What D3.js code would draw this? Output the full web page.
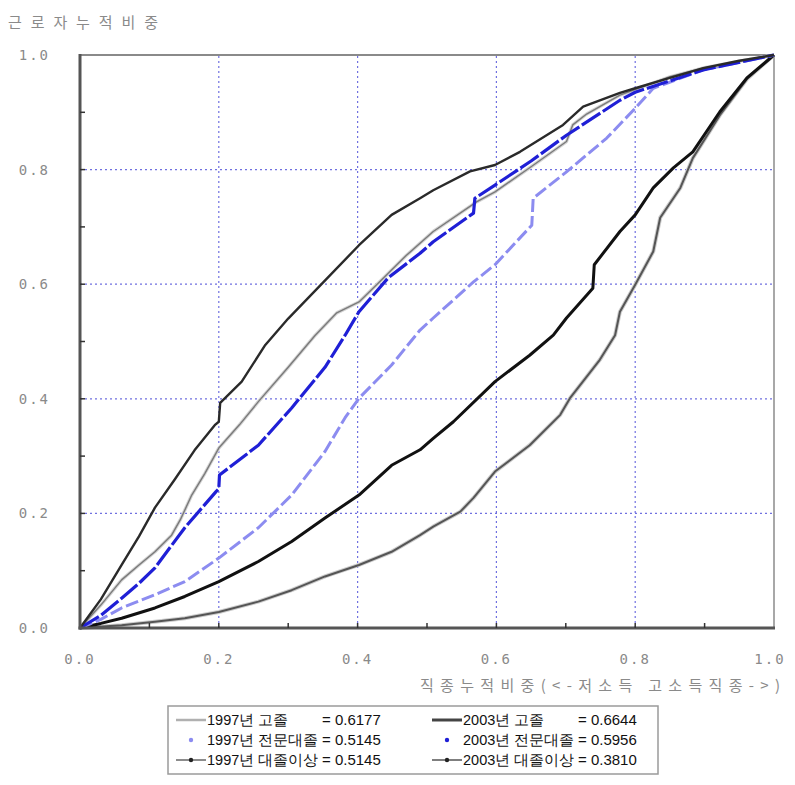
<!DOCTYPE html>
<html>
<head>
<meta charset="utf-8">
<script src="https://cdn.jsdelivr.net/npm/d3@7"></script>
<style>
  body { margin: 0; background: #fff; }
  svg { display: block; }
</style>
</head>
<body>
<svg id="chart" width="795" height="785"></svg>
<script>
// Cumulative employment share (x) vs cumulative worker share (y), by education group
const hs1997 = [[0,0],[0.03,0.04],[0.06,0.084],[0.085,0.11],[0.108,0.133],[0.132,0.162],[0.145,0.19],[0.161,0.232],[0.18,0.27],[0.2,0.314],[0.23,0.355],[0.257,0.395],[0.30,0.455],[0.339,0.511],[0.37,0.55],[0.402,0.569],[0.43,0.602],[0.47,0.65],[0.509,0.692],[0.572,0.744],[0.598,0.761],[0.65,0.805],[0.701,0.849],[0.71,0.878],[0.73,0.897],[0.778,0.93],[0.85,0.962],[0.9,0.978],[1,1]];
const tech1997 = [[0,0],[0.03,0.015],[0.06,0.035],[0.108,0.058],[0.151,0.081],[0.2,0.122],[0.257,0.175],[0.305,0.232],[0.353,0.308],[0.382,0.367],[0.402,0.401],[0.449,0.459],[0.49,0.52],[0.509,0.541],[0.567,0.604],[0.598,0.634],[0.651,0.703],[0.653,0.75],[0.701,0.796],[0.759,0.855],[0.8,0.907],[0.826,0.942],[0.898,0.974],[1,1]];
const univ1997 = [[0,0],[0.06,0.005],[0.108,0.011],[0.151,0.017],[0.2,0.028],[0.257,0.046],[0.305,0.066],[0.353,0.09],[0.402,0.11],[0.449,0.133],[0.49,0.162],[0.509,0.177],[0.548,0.203],[0.567,0.227],[0.598,0.273],[0.648,0.319],[0.692,0.372],[0.706,0.401],[0.749,0.468],[0.771,0.511],[0.778,0.552],[0.8,0.599],[0.826,0.657],[0.836,0.716],[0.865,0.768],[0.883,0.82],[0.922,0.895],[0.961,0.958],[1,1]];
const hs2003 = [[0,0],[0.03,0.05],[0.06,0.11],[0.085,0.16],[0.108,0.21],[0.137,0.26],[0.165,0.31],[0.195,0.355],[0.2,0.36],[0.202,0.393],[0.233,0.43],[0.267,0.494],[0.30,0.54],[0.348,0.60],[0.402,0.668],[0.449,0.721],[0.49,0.75],[0.509,0.764],[0.562,0.797],[0.598,0.808],[0.634,0.831],[0.696,0.878],[0.725,0.91],[0.778,0.934],[0.8,0.942],[0.85,0.96],[0.898,0.977],[0.95,0.99],[1,1]];
const tech2003 = [[0,0],[0.03,0.022],[0.06,0.052],[0.085,0.078],[0.108,0.105],[0.151,0.175],[0.196,0.238],[0.2,0.243],[0.201,0.267],[0.257,0.319],[0.305,0.384],[0.353,0.455],[0.382,0.511],[0.402,0.552],[0.444,0.611],[0.49,0.654],[0.509,0.674],[0.567,0.724],[0.569,0.75],[0.598,0.773],[0.65,0.815],[0.701,0.86],[0.778,0.921],[0.8,0.935],[0.898,0.974],[1,1]];
const univ2003 = [[0,0],[0.03,0.008],[0.06,0.017],[0.108,0.035],[0.151,0.055],[0.2,0.081],[0.257,0.116],[0.305,0.151],[0.353,0.192],[0.402,0.232],[0.449,0.284],[0.49,0.311],[0.509,0.331],[0.538,0.36],[0.598,0.43],[0.648,0.476],[0.682,0.511],[0.701,0.541],[0.739,0.593],[0.741,0.634],[0.778,0.692],[0.8,0.721],[0.826,0.768],[0.855,0.803],[0.883,0.831],[0.922,0.901],[0.961,0.96],[1,1]];

const majorTicks = [0, 0.2, 0.4, 0.6, 0.8, 1.0];
const minorTicks = [0.1, 0.3, 0.5, 0.7, 0.9];
const yTitle = "근로자누적비중";
const xTitle = "직종누적비중(<-저소득 고소득직종->)";
const legendNames = ["1997년 고졸", "1997년 전문대졸", "1997년 대졸이상", "2003년 고졸", "2003년 전문대졸", "2003년 대졸이상"];
const legendValues = ["0.6177", "0.5145", "0.5145", "0.6644", "0.5956", "0.3810"];

const svg = d3.select("#chart");
const x = d3.scaleLinear().domain([0, 1]).range([80, 774]);
const y = d3.scaleLinear().domain([0, 1]).range([628, 55]);

// Dotted grid
const grid = svg.append("g");
[0.2, 0.4, 0.6, 0.8].forEach(v => {
  grid.append("line").attr("x1", x(v)).attr("x2", x(v)).attr("y1", y(0)).attr("y2", y(1))
    .attr("stroke", "#7070e0").attr("stroke-width", 1.2).attr("stroke-dasharray", "2,3");
  grid.append("line").attr("x1", x(0)).attr("x2", x(1)).attr("y1", y(v)).attr("y2", y(v))
    .attr("stroke", "#7070e0").attr("stroke-width", 1.2).attr("stroke-dasharray", "2,3");
});

// Frame: top/right light, left/bottom heavy
svg.append("line").attr("x1", x(0)).attr("x2", x(1)).attr("y1", y(1)).attr("y2", y(1)).attr("stroke", "#8a8a8a").attr("stroke-width", 2);
svg.append("line").attr("x1", x(1)).attr("x2", x(1)).attr("y1", y(0)).attr("y2", y(1)).attr("stroke", "#a8a8a8").attr("stroke-width", 2);

const line = d3.line().x(d => x(d[0])).y(d => y(d[1]));

const series = [
  { data: univ1997, color: "#555", width: 2, dash: null, halo: "#ccc" },
  { data: univ2003, color: "#111", width: 3, dash: null, halo: null },
  { data: tech1997, color: "#8c8cf0", width: 3, dash: "13,4", halo: null },
  { data: hs1997, color: "#7a7a7a", width: 1.4, dash: null, halo: "#d4d4d4" },
  { data: tech2003, color: "#1f1fd6", width: 3.2, dash: "22,3", halo: null },
  { data: hs2003, color: "#2a2a2a", width: 2.4, dash: null, halo: null }
];

series.forEach(s => {
  if (s.halo) {
    svg.append("path").datum(s.data).attr("d", line).attr("fill", "none")
      .attr("stroke", s.halo).attr("stroke-width", s.width + 2).attr("stroke-linejoin", "round");
  }
  svg.append("path").datum(s.data).attr("d", line).attr("fill", "none")
    .attr("stroke", s.color).attr("stroke-width", s.width)
    .attr("stroke-linejoin", "round")
    .attr("stroke-dasharray", s.dash);
});

// Heavy left and bottom axes with inward minor ticks
svg.append("line").attr("x1", x(0)).attr("x2", x(0)).attr("y1", y(0) + 1.5).attr("y2", y(1) - 1).attr("stroke", "#555").attr("stroke-width", 3);
svg.append("line").attr("x1", x(0) - 1.5).attr("x2", x(1) + 1).attr("y1", y(0)).attr("y2", y(0)).attr("stroke", "#555").attr("stroke-width", 3);
majorTicks.concat(minorTicks).forEach(v => {
  if (v > 0 && v < 1) {
    svg.append("line").attr("x1", x(0)).attr("x2", x(0) + 5).attr("y1", y(v)).attr("y2", y(v)).attr("stroke", "#333").attr("stroke-width", 1.5);
    svg.append("line").attr("x1", x(v)).attr("x2", x(v)).attr("y1", y(0)).attr("y2", y(0) - 5).attr("stroke", "#333").attr("stroke-width", 1.5);
  }
});

// Tick labels
const tickFont = "'DejaVu Sans Mono', monospace";
const fmt = d3.format(".1f");
majorTicks.forEach(v => {
  svg.append("text").attr("x", 50).attr("y", y(v) + 5).attr("text-anchor", "end")
    .attr("font-family", tickFont).attr("font-size", 14).attr("letter-spacing", 2)
    .attr("fill", "#8a8a8a").text(fmt(v));
  svg.append("text").attr("x", x(v) + (v === 1 ? -4 : 0)).attr("y", 664).attr("text-anchor", "middle")
    .attr("font-family", tickFont).attr("font-size", 14).attr("letter-spacing", 2)
    .attr("fill", "#8a8a8a").text(fmt(v));
});

// Axis titles
svg.append("text").attr("x", 8).attr("y", 28).attr("font-family", "'Noto Sans CJK KR', sans-serif")
  .attr("font-size", 15).attr("textLength", 150).attr("lengthAdjust", "spacing")
  .attr("fill", "#8a8a8a").text(yTitle);
svg.append("text").attr("x", 420).attr("y", 691).attr("font-family", "'Noto Sans CJK KR', sans-serif")
  .attr("font-size", 15).attr("textLength", 360).attr("lengthAdjust", "spacing")
  .attr("fill", "#8a8a8a").text(xTitle);

// Legend
const lg = svg.append("g");
lg.append("rect").attr("x", 168).attr("y", 706).attr("width", 490).attr("height", 68)
  .attr("fill", "#fff").attr("stroke", "#9a9a9a").attr("stroke-width", 1.5);
const legendFont = "'Liberation Sans', Arial, sans-serif";
const rows = [720, 740, 760];
const cols = [176, 432];
legendNames.forEach((name, i) => {
  const col = Math.floor(i / 3), row = i % 3;
  const s = [series[3], series[2], series[0], series[5], series[4], series[1]][i];
  const cx = cols[col], cy = rows[row];
  if (row === 0) {
    lg.append("line").attr("x1", cx).attr("x2", cx + 30).attr("y1", cy).attr("y2", cy)
      .attr("stroke", col === 0 ? "#b0b0b0" : "#444").attr("stroke-width", col === 0 ? 2.5 : 3);
  } else if (row === 1) {
    lg.append("circle").attr("cx", cx + 15).attr("cy", cy).attr("r", 2.2).attr("fill", s.color);
  } else {
    lg.append("line").attr("x1", cx).attr("x2", cx + 30).attr("y1", cy).attr("y2", cy)
      .attr("stroke", col === 0 ? "#666" : "#555").attr("stroke-width", 1.5);
    lg.append("circle").attr("cx", cx + 15).attr("cy", cy).attr("r", 2.2).attr("fill", "#222");
  }
  lg.append("text").attr("x", cx + 31).attr("y", cy + 5).attr("font-family", legendFont)
    .attr("font-size", 14.5).attr("fill", "#111").text(name);
  lg.append("text").attr("x", cx + 146).attr("y", cy + 5).attr("font-family", legendFont)
    .attr("font-size", 15).attr("fill", "#111").text("= " + legendValues[i]);
});
</script>
</body>
</html>
